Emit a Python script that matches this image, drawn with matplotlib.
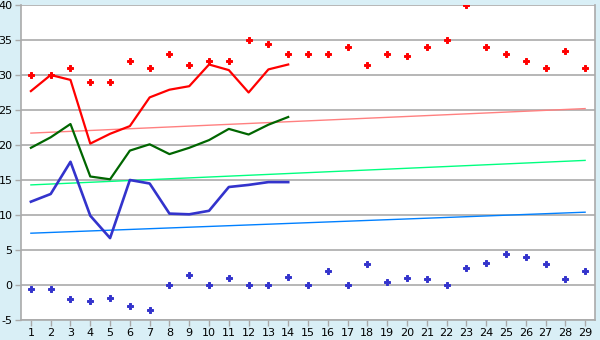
import matplotlib
matplotlib.use("Agg")
import matplotlib.pyplot as plt

plt.rcParams["axes.unicode_minus"] = False

days = list(range(1, 30))
red_dots = [30, 30, 31, 29, 29, 32, 31, 33, 31.4, 32, 32, 35, 34.4, 33, 33, 33, 34, 31.5, 33,
            32.7, 34, 35, 40, 34, 33, 32, 31, 33.4, 31]
blue_dots = [-0.5, -0.6, -2, -2.3, -1.8, -3, -3.6, 0, 1.4, 0, 1, 0, 0, 1.2, 0, 2, 0, 3, 0.5,
             1, 0.8, 0, 2.4, 3.2, 4.4, 4, 3, 0.8, 2]
line_days = list(range(1, 15))
red_line = [27.7, 30, 29.3, 20.2, 21.6, 22.7, 26.8, 27.9, 28.4, 31.5, 30.7, 27.5, 30.8, 31.5]
green_line = [19.6, 21.1, 23, 15.5, 15.1, 19.2, 20.1, 18.7, 19.6, 20.7, 22.3, 21.5, 22.9, 24]
blue_line = [11.9, 13, 17.6, 9.9, 6.7, 15, 14.5, 10.2, 10.1, 10.6, 14, 14.3, 14.7, 14.7]
trend_days = [1, 29]
red_trend = [21.7, 25.2]
green_trend = [14.3, 17.8]
blue_trend = [7.4, 10.4]
y_ticks = list(range(-5, 41, 5))

bg = "#d9eff6"
fig = plt.figure(figsize=(6, 3.4), dpi=100, facecolor=bg)
ax = fig.add_axes([21/600, 1-320/340, (595-21)/600, (320-5)/340])
ax.set_facecolor("white")

for y in y_ticks:
    ax.axhline(y, color="#aaaaaa", lw=1.2, zorder=1)

ax.plot(trend_days, red_trend, color="#ff8080", lw=1.0, zorder=2)
ax.plot(trend_days, green_trend, color="#00ff80", lw=1.0, zorder=2)
ax.plot(trend_days, blue_trend, color="#0080ff", lw=1.0, zorder=2)

ax.plot(line_days, red_line, color="#ff0000", lw=1.6, zorder=3)
ax.plot(line_days, green_line, color="#006600", lw=1.6, zorder=3)
ax.plot(line_days, blue_line, color="#3333cc", lw=1.9, zorder=3)

ax.plot(days, red_dots, ls="none", marker="P", ms=5, color="#ff0000", mec="#ff0000", mew=0.7, zorder=4)
ax.plot(days, blue_dots, ls="none", marker="P", ms=5, color="#3333cc", mec="#3333cc", mew=0.7, zorder=4)

ax.set_xlim(0.5, 29.5)
ax.set_ylim(-5, 40)
ax.set_xticks(days)
ax.set_yticks(y_ticks)
ax.tick_params(axis="both", labelsize=8, colors="#aaaaaa", labelcolor="black", length=4, width=1, pad=2)

for s in ["left", "bottom", "right"]:
    ax.spines[s].set_color("#aaaaaa")
    ax.spines[s].set_linewidth(1.2)
ax.spines["top"].set_visible(False)

fig.savefig("out.png", dpi=100, facecolor=bg)
